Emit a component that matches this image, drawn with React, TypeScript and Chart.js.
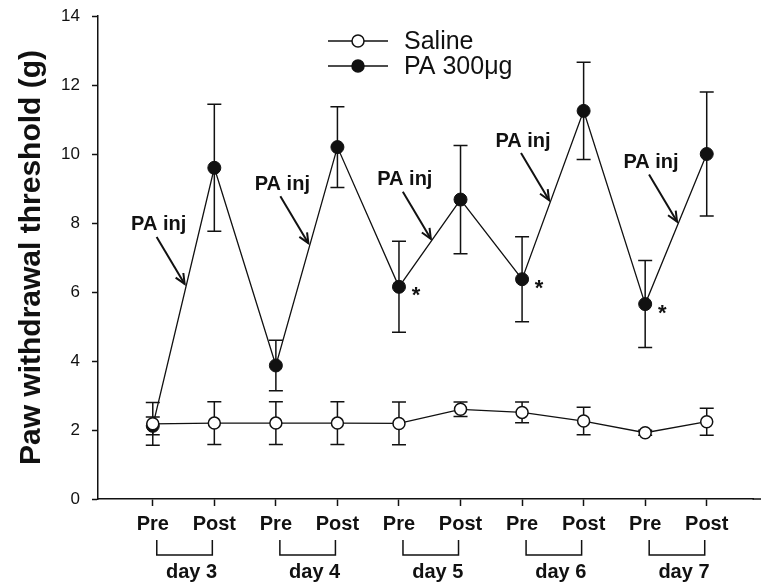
import React, { useEffect, useRef } from 'react';
import { Chart, registerables } from 'chart.js';

Chart.register(...registerables);

const FONT = "'Liberation Sans', Arial, Helvetica, sans-serif";

// ---- data ----
const categories = ['Pre', 'Post', 'Pre', 'Post', 'Pre', 'Post', 'Pre', 'Post', 'Pre', 'Post'];
const days = ['day 3', 'day 4', 'day 5', 'day 6', 'day 7'];
const yTicks = [0, 2, 4, 6, 8, 10, 12, 14];

const salineMean = [2.18, 2.2, 2.2, 2.2, 2.19, 2.6, 2.51, 2.26, 1.92, 2.24];
const salineErr = [0.62, 0.62, 0.62, 0.62, 0.62, 0.21, 0.3, 0.4, 0.07, 0.39];

const paMean = [2.12, 9.6, 3.87, 10.2, 6.15, 8.68, 6.37, 11.25, 5.65, 10.0];
const paErr = [0.26, 1.84, 0.73, 1.17, 1.32, 1.57, 1.23, 1.41, 1.26, 1.8];

const starIdx = [4, 6, 8];
const injLabel = 'PA inj';
const arrowT = [0.55, 0.56, 0.55, 0.47, 0.55];

const seriesNames = ['Saline', 'PA 300\u03BCg'];

const INK = '#111';

function drawArrow(ctx: CanvasRenderingContext2D, x1: number, y1: number, x2: number, y2: number) {
  ctx.beginPath();
  ctx.moveTo(x1, y1);
  ctx.lineTo(x2, y2);
  ctx.stroke();
  const ang = Math.atan2(y2 - y1, x2 - x1);
  const L = 11;
  const a = 0.42;
  ctx.beginPath();
  ctx.moveTo(x2 - L * Math.cos(ang - a), y2 - L * Math.sin(ang - a));
  ctx.lineTo(x2, y2);
  ctx.lineTo(x2 - L * Math.cos(ang + a), y2 - L * Math.sin(ang + a));
  ctx.stroke();
}

const annotPlugin = {
  id: 'annot',
  beforeDatasetsDraw(chart: any) {
    const ctx: CanvasRenderingContext2D = chart.ctx;
    const xs = chart.scales.x;
    const ys = chart.scales.y;
    ctx.save();
    ctx.strokeStyle = INK;
    ctx.lineWidth = 1.5;
    // extend x axis line to the right edge of the figure
    ctx.beginPath();
    ctx.moveTo(chart.chartArea.right - 1, chart.chartArea.bottom);
    ctx.lineTo(chart.width, chart.chartArea.bottom);
    ctx.stroke();
    const groups = [
      [salineMean, salineErr],
      [paMean, paErr],
    ];
    groups.forEach(([m, e]) => {
      m.forEach((v, i) => {
        const x = xs.getPixelForValue(i);
        const yt = ys.getPixelForValue(v + e[i]);
        const yb = ys.getPixelForValue(v - e[i]);
        ctx.beginPath();
        ctx.moveTo(x, yt);
        ctx.lineTo(x, yb);
        ctx.moveTo(x - 7, yt);
        ctx.lineTo(x + 7, yt);
        ctx.moveTo(x - 7, yb);
        ctx.lineTo(x + 7, yb);
        ctx.stroke();
      });
    });
    ctx.restore();
  },
  afterDatasetsDraw(chart: any) {
    const ctx: CanvasRenderingContext2D = chart.ctx;
    const xs = chart.scales.x;
    const ys = chart.scales.y;
    ctx.save();
    ctx.strokeStyle = INK;
    ctx.fillStyle = INK;
    ctx.lineWidth = 2;
    // PA inj arrows
    days.forEach((_, d) => {
      const i0 = 2 * d;
      const x0 = xs.getPixelForValue(i0);
      const y0 = ys.getPixelForValue(paMean[i0]);
      const x1 = xs.getPixelForValue(i0 + 1);
      const y1 = ys.getPixelForValue(paMean[i0 + 1]);
      const t = arrowT[d];
      const tx = x0 + t * (x1 - x0) - 2;
      const ty = y0 + t * (y1 - y0);
      drawArrow(ctx, tx - 28, ty - 47, tx, ty);
      ctx.font = `bold 20px ${FONT}`;
      ctx.textAlign = 'center';
      ctx.textBaseline = 'middle';
      ctx.fillText(injLabel, tx - 26, ty - 59);
    });
    // asterisks
    ctx.font = `bold 22px ${FONT}`;
    ctx.textAlign = 'center';
    ctx.textBaseline = 'alphabetic';
    starIdx.forEach((i) => {
      const x = xs.getPixelForValue(i);
      const y = ys.getPixelForValue(paMean[i]);
      ctx.fillText('*', x + 17, y + 3 + 12.5);
    });
    ctx.restore();
  },
  afterDraw(chart: any) {
    const ctx: CanvasRenderingContext2D = chart.ctx;
    const xs = chart.scales.x;
    const bottom = chart.chartArea.bottom;
    ctx.save();
    ctx.strokeStyle = INK;
    ctx.fillStyle = INK;
    ctx.lineWidth = 1.5;
    // day brackets
    days.forEach((label, d) => {
      const xl = xs.getPixelForValue(2 * d) + 4;
      const xr = xs.getPixelForValue(2 * d + 1) - 2;
      ctx.beginPath();
      ctx.moveTo(xl, bottom + 41);
      ctx.lineTo(xl, bottom + 56);
      ctx.lineTo(xr, bottom + 56);
      ctx.lineTo(xr, bottom + 41);
      ctx.stroke();
      ctx.font = `bold 20px ${FONT}`;
      ctx.textAlign = 'center';
      ctx.textBaseline = 'middle';
      ctx.fillText(label, (xl + xr) / 2 + 7, bottom + 73);
    });
    // legend
    const lx0 = 328;
    const lx1 = 388;
    const mx = 358;
    const rows = [41, 66];
    rows.forEach((ly, k) => {
      ctx.lineWidth = 1.3;
      ctx.beginPath();
      ctx.moveTo(lx0, ly);
      ctx.lineTo(lx1, ly);
      ctx.stroke();
      ctx.beginPath();
      ctx.arc(mx, ly, 6, 0, Math.PI * 2);
      ctx.fillStyle = k === 0 ? '#fff' : INK;
      ctx.fill();
      ctx.lineWidth = 1.5;
      ctx.stroke();
      ctx.fillStyle = INK;
      ctx.font = `25px ${FONT}`;
      ctx.textAlign = 'left';
      ctx.textBaseline = 'middle';
      ctx.fillText(seriesNames[k], 404, ly + 1);
    });
    ctx.restore();
  },
};

export default function App() {
  const ref = useRef<HTMLCanvasElement>(null);
  useEffect(() => {
    const canvas = ref.current!;
    const chart = new Chart(canvas, {
      type: 'line',
      data: {
        datasets: [
          {
            label: seriesNames[0],
            data: salineMean.map((y, i) => ({ x: i, y })),
            borderColor: INK,
            borderWidth: 1.3,
            backgroundColor: '#fff',
            pointBackgroundColor: '#fff',
            pointBorderColor: INK,
            pointBorderWidth: 1.5,
            pointRadius: 6,
            tension: 0,
          },
          {
            label: seriesNames[1],
            data: paMean.map((y, i) => ({ x: i, y })),
            borderColor: INK,
            borderWidth: 1.3,
            backgroundColor: INK,
            pointBackgroundColor: INK,
            pointBorderColor: INK,
            pointBorderWidth: 1,
            pointRadius: 6.5,
            tension: 0,
          },
        ],
      },
      options: {
        responsive: false,
        animation: false,
        devicePixelRatio: 1,
        layout: { padding: { top: 16, right: 0, bottom: 0, left: 0 } },
        plugins: {
          legend: { display: false },
          tooltip: { enabled: false },
        },
        scales: {
          x: {
            type: 'linear',
            min: -0.89,
            max: 9.76,
            afterBuildTicks: (s: any) => {
              s.ticks = categories.map((_, i) => ({ value: i }));
            },
            afterFit: (s: any) => {
              s.height = 86;
              s.paddingLeft = 0;
              s.paddingRight = 0;
            },
            grid: {
              display: true,
              drawOnChartArea: false,
              drawTicks: true,
              tickLength: 7,
              tickWidth: 1.5,
              tickColor: INK,
            },
            border: { display: true, color: INK, width: 1.5 },
            ticks: {
              autoSkip: false,
              maxRotation: 0,
              padding: 6,
              color: INK,
              font: { family: FONT, size: 20, weight: 'bold' },
              callback: (v: any) => categories[Math.round(Number(v))] ?? '',
            },
          },
          y: {
            type: 'linear',
            min: 0,
            max: 14,
            afterBuildTicks: (s: any) => {
              s.ticks = yTicks.map((v) => ({ value: v }));
            },
            afterFit: (s: any) => {
              s.width = 98;
              s.paddingTop = 0;
              s.paddingBottom = 0;
            },
            grid: {
              display: true,
              drawOnChartArea: false,
              drawTicks: true,
              tickLength: 6,
              tickWidth: 1.5,
              tickColor: INK,
            },
            border: { display: true, color: INK, width: 1.5 },
            ticks: {
              padding: 12,
              color: INK,
              font: { family: FONT, size: 17 },
            },
            title: {
              display: true,
              text: 'Paw withdrawal threshold (g)',
              color: INK,
              font: { family: FONT, size: 30, weight: 'bold' },
              padding: { top: 14, bottom: 0 },
            },
          },
        },
      },
      plugins: [annotPlugin],
    } as any);
    return () => chart.destroy();
  }, []);
  return (
    <div style={{ position: 'absolute', left: 0, top: 0, width: 761, height: 585, background: '#fff' }}>
      <canvas ref={ref} width={761} height={585} style={{ display: 'block' }} />
    </div>
  );
}
